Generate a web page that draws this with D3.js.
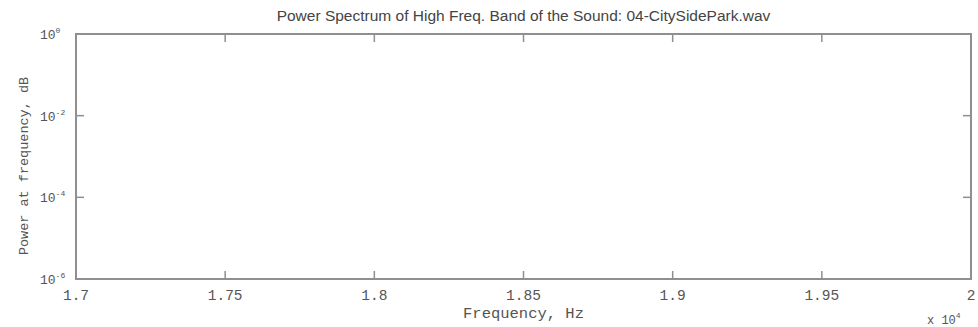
<!DOCTYPE html>
<html><head><meta charset="utf-8">
<script src="https://cdn.jsdelivr.net/npm/d3@7"></script>
<style>
html,body{margin:0;padding:0;background:#fff;}
svg{display:block;}
</style></head>
<body>
<script>
const titleText = "Power Spectrum of High Freq. Band of the Sound: 04-CitySidePark.wav";
const xLabel = "Frequency, Hz";
const yLabel = "Power at frequency, dB";
const xDomain = [17000, 20000];
const xTicks = [17000, 17500, 18000, 18500, 19000, 19500, 20000];
const xTickLabels = ["1.7", "1.75", "1.8", "1.85", "1.9", "1.95", "2"];
const xExponent = "4";
const yDomain = [1e-6, 1];
const yTicks = [1, 1e-2, 1e-4, 1e-6];
const yTickExponents = ["0", "-2", "-4", "-6"];

const W = 978, H = 327;
const m = {left: 76, right: 7, top: 34, bottom: 48};
const axisColor = "#8f8f8f";
const textColor = "#555";
const mono = "'Liberation Mono', 'DejaVu Sans Mono', monospace";

const svg = d3.select("body").append("svg").attr("width", W).attr("height", H);
const x = d3.scaleLinear().domain(xDomain).range([m.left, W - m.right]);
const y = d3.scaleLog().domain(yDomain).range([H - m.bottom, m.top]);

// box
svg.append("rect")
  .attr("x", x(xDomain[0])).attr("y", y(yDomain[1]))
  .attr("width", x(xDomain[1]) - x(xDomain[0]))
  .attr("height", y(yDomain[0]) - y(yDomain[1]))
  .attr("fill", "none").attr("stroke", axisColor).attr("stroke-width", 2);

const tickLen = 8;
const gx = svg.append("g");
xTicks.forEach(function(t, i) {
  if (i > 0 && i < xTicks.length - 1) {
    gx.append("line").attr("x1", x(t)).attr("x2", x(t))
      .attr("y1", y(yDomain[0])).attr("y2", y(yDomain[0]) - tickLen)
      .attr("stroke", axisColor).attr("stroke-width", 1.5);
    gx.append("line").attr("x1", x(t)).attr("x2", x(t))
      .attr("y1", y(yDomain[1])).attr("y2", y(yDomain[1]) + tickLen)
      .attr("stroke", axisColor).attr("stroke-width", 1.5);
  }
  gx.append("text").attr("x", x(t)).attr("y", y(yDomain[0]) + 21)
    .attr("text-anchor", "middle").attr("font-family", mono).attr("font-size", 14.5)
    .attr("fill", textColor).text(xTickLabels[i]);
});

const gy = svg.append("g");
yTicks.forEach(function(t, i) {
  if (i > 0 && i < yTicks.length - 1) {
    gy.append("line").attr("x1", x(xDomain[0])).attr("x2", x(xDomain[0]) + tickLen)
      .attr("y1", y(t)).attr("y2", y(t))
      .attr("stroke", axisColor).attr("stroke-width", 1.5);
    gy.append("line").attr("x1", x(xDomain[1])).attr("x2", x(xDomain[1]) - tickLen)
      .attr("y1", y(t)).attr("y2", y(t))
      .attr("stroke", axisColor).attr("stroke-width", 1.5);
  }
  const tx = gy.append("text").attr("x", 40).attr("y", y(t) + 5)
    .attr("font-family", mono).attr("font-size", 13).attr("fill", textColor);
  tx.append("tspan").text("10");
  tx.append("tspan").attr("dy", -6).attr("font-size", 8).text(yTickExponents[i]);
});

// exponent marker
const ex = svg.append("text").attr("x", 927).attr("y", 324)
  .attr("font-family", mono).attr("font-size", 12).attr("fill", textColor);
ex.append("tspan").text("x 10");
ex.append("tspan").attr("dy", -6).attr("font-size", 8).text(xExponent);

// title
svg.append("text").attr("x", (x(xDomain[0]) + x(xDomain[1])) / 2).attr("y", 21)
  .attr("text-anchor", "middle").attr("font-family", "'Liberation Sans', Arial, sans-serif")
  .attr("font-size", 15.5).attr("fill", "#444").text(titleText);

// x label
svg.append("text").attr("x", (x(xDomain[0]) + x(xDomain[1])) / 2).attr("y", 318)
  .attr("text-anchor", "middle").attr("font-family", mono).attr("font-size", 15.5)
  .attr("fill", textColor).text(xLabel);

// y label
svg.append("text").attr("transform", "translate(28,166) rotate(-90)")
  .attr("text-anchor", "middle").attr("font-family", mono).attr("font-size", 13.5)
  .attr("fill", textColor).text(yLabel);
</script>
</body></html>
